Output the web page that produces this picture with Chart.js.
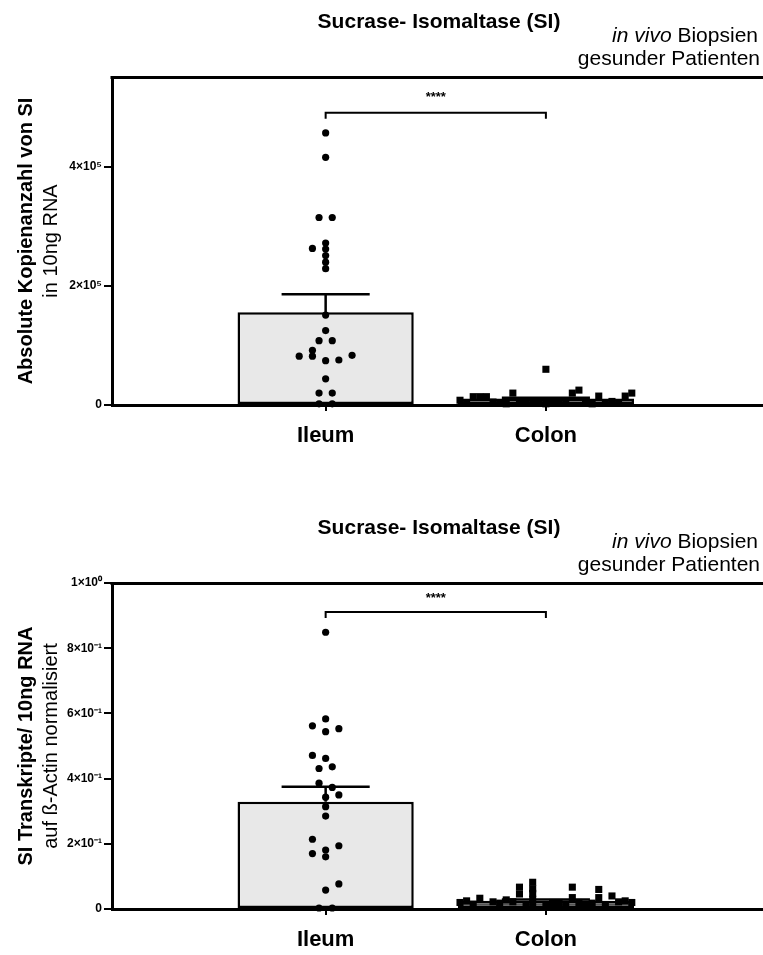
<!DOCTYPE html>
<html>
<head>
<meta charset="utf-8">
<script src="https://cdn.jsdelivr.net/npm/chart.js@4.4.1/dist/chart.umd.min.js"></script>
<style>
  body { margin: 0; background: #fff; width: 763px; height: 955px; overflow: hidden; position: relative; }
  canvas { position: absolute; left: 0; }
  #copies { top: 0; }
  #norm { top: 506px; }
</style>
</head>
<body>
<canvas id="copies" width="763" height="478"></canvas>
<canvas id="norm" width="763" height="449"></canvas>
<script>
const categories = ["Ileum", "Colon"];

// upper panel: absolute copies in 10ng RNA
const copiesMean = [156000, 11000];
const copiesSem = [30000, 1000];
const ileumCopies = [457000, 416000, 315000, 315000, 263000, 272000, 262000, 251000, 240000, 229000,
  151000, 125000, 108000, 108000, 92000, 82000, 82000, 74500, 75600, 83500, 44000, 20000, 20000, 2000, 2000];
const ileumCopiesJitter = [0, 0, -1, 1, -2, 0, 0, 0, 0, 0,
  0, 0, -1, 1, -2, -4, -2, 0, 2, 4, 0, -1, 1, -1, 1];
const colonCopies = [8000, 14000, 14000, 14000, 5000, 4000, 20000, 5000, 3000, 5000,
  60000, 2000, 4000, 6000, 20000, 25000, 5000, 15000, 3000, 6000, 15000, 20000,
  3000, 2000, 3000, 3000, 2000, 3000];
const colonCopiesJitter = [-13, -11, -10, -9, -8, -7, -5, -4, -3, -1,
  0, 0, 1, 3, 4, 5, 6, 8, 9, 10, 12, 13,
  -12, -6, -2, 2, 7, 11];
const copiesTicks = [0, 200000, 400000];
const copiesTickLabels = ["0", "2×10⁵", "4×10⁵"];

// lower panel: transcripts normalised to beta-actin
const normMean = [0.329, 0.025];
const normSem = [0.046, 0.004];
const ileumNorm = [0.849, 0.583, 0.562, 0.553, 0.544, 0.471, 0.462, 0.436, 0.431, 0.386,
  0.373, 0.350, 0.343, 0.314, 0.285, 0.214, 0.194, 0.181, 0.170, 0.160, 0.077, 0.058, 0.003, 0.003];
const ileumNormJitter = [0, 0, -2, 2, 0, -2, 0, 1, -1, -1,
  1, 2, 0, 0, 0, -2, 2, 0, -2, 0, 2, 0, -1, 1];
const colonNorm = [0.025, 0.033, 0.022, 0.028, 0.067, 0.046, 0.082, 0.062, 0.048, 0.030,
  0.015, 0.010, 0.020, 0.067, 0.035, 0.015, 0.060, 0.035, 0.040, 0.025,
  0.020, 0.015, 0.018, 0.022, 0.012, 0.020, 0.015, 0.020, 0.018, 0.012, 0.022, 0.020];
const colonNormJitter = [-12, -10, -8, -6, -4, -4, -2, -2, -2, -2,
  -2, 0, 2, 4, 4, 6, 8, 8, 10, 12,
  -13, -11, -7, -5, -3, 1, 3, 5, 7, 9, 11, 13];
const normTicks = [0, 0.2, 0.4, 0.6, 0.8, 1];
const normTickLabels = ["0", "2×10⁻¹", "4×10⁻¹", "6×10⁻¹", "8×10⁻¹", "1×10⁰"];

const JITTER = 0.03;
const FONT = '"Liberation Sans", Arial, Helvetica, sans-serif';
Chart.defaults.font.family = FONT;
Chart.defaults.color = "#000";

// titles, frame line, y titles, significance bracket
const decor = {
  id: "decor",
  afterDraw(chart, args, o) {
    const { ctx, chartArea: a, scales } = chart;
    ctx.save();
    ctx.fillStyle = "#000";
    ctx.strokeStyle = "#000";

    // top frame line + run the x axis line to the right edge
    ctx.lineWidth = 3;
    const yTop = Math.round(a.top) + 0.5;
    const yBot = Math.round(scales.x.top) + 0.5;
    ctx.beginPath();
    ctx.moveTo(a.left - 1.5, yTop);
    ctx.lineTo(chart.width, yTop);
    ctx.moveTo(a.right - 4, yBot);
    ctx.lineTo(chart.width, yBot);
    ctx.stroke();

    // main title
    ctx.textBaseline = "middle";
    ctx.textAlign = "center";
    ctx.font = "bold 21px " + FONT;
    ctx.fillText(o.title, 439, 22);

    // "in vivo Biopsien" / "gesunder Patienten"
    ctx.textAlign = "right";
    ctx.font = "21px " + FONT;
    const rest = " Biopsien";
    ctx.fillText(rest, 758, 36);
    const w = ctx.measureText(rest).width;
    ctx.font = "italic 21px " + FONT;
    ctx.fillText("in vivo", 758 - w, 36);
    ctx.font = "21px " + FONT;
    ctx.fillText("gesunder Patienten", 760, 59);

    // y axis titles
    const midY = (a.top + a.bottom) / 2;
    ctx.textAlign = "center";
    ctx.save();
    ctx.translate(26, midY);
    ctx.rotate(-Math.PI / 2);
    ctx.font = "bold 20px " + FONT;
    ctx.fillText(o.yTitle[0], 0, 0);
    ctx.font = "20px " + FONT;
    ctx.fillText(o.yTitle[1], 0, 25);
    ctx.restore();

    // significance bracket
    const x1 = scales.x.getPixelForValue(1);
    const x2 = scales.x.getPixelForValue(2);
    const yb = scales.y.getPixelForValue(o.bracket);
    const yd = scales.y.getPixelForValue(o.bracket - o.drop);
    ctx.lineWidth = 2;
    ctx.beginPath();
    ctx.moveTo(x1, yd);
    ctx.lineTo(x1, yb);
    ctx.lineTo(x2, yb);
    ctx.lineTo(x2, yd);
    ctx.stroke();
    ctx.font = "bold 13px " + FONT;
    ctx.fillText("****", (x1 + x2) / 2, scales.y.getPixelForValue(o.stars));
    ctx.restore();
  }
};

// SEM above each bar, drawn right after the bars
const semBars = {
  id: "semBars",
  afterDatasetDraw(chart, args, o) {
    if (args.index !== 0) return;
    const { ctx, scales } = chart;
    const meta = chart.getDatasetMeta(0);
    ctx.save();
    ctx.strokeStyle = "#000";
    ctx.lineWidth = 2.5;
    meta.data.forEach((bar, i) => {
      const half = bar.width / 4;
      const top = scales.y.getPixelForValue(o.mean[i] + o.sem[i]);
      ctx.beginPath();
      ctx.moveTo(bar.x, bar.y);
      ctx.lineTo(bar.x, top);
      ctx.moveTo(bar.x - half, top);
      ctx.lineTo(bar.x + half, top);
      ctx.stroke();
    });
    ctx.restore();
  }
};

function makeChart(id, p) {
  const h = document.getElementById(id).height;
  return new Chart(document.getElementById(id), {
    type: "bar",
    data: {
      datasets: [
        {
          type: "bar",
          data: categories.map((c, i) => ({ x: i + 1, y: p.mean[i] })),
          backgroundColor: ["#e8e8e8", "#555555"],
          borderColor: "#000",
          borderWidth: 2.5,
          borderSkipped: false,
          barPercentage: 0.8,
          categoryPercentage: 1,
          order: 2
        },
        {
          type: "scatter",
          data: p.ileum.map((v, i) => ({ x: 1 + p.ileumJitter[i] * JITTER, y: v })),
          pointStyle: "circle",
          pointRadius: 3.6,
          backgroundColor: "#000",
          borderWidth: 0,
          clip: false,
          order: 1
        },
        {
          type: "scatter",
          data: p.colon.map((v, i) => ({ x: 2 + p.colonJitter[i] * JITTER, y: v })),
          pointStyle: "rect",
          pointRadius: 5,
          backgroundColor: "#000",
          borderWidth: 0,
          clip: false,
          order: 1
        }
      ]
    },
    options: {
      responsive: false,
      animation: false,
      layout: { padding: { top: 77, left: 0, right: 0, bottom: 0 } },
      scales: {
        x: {
          type: "linear",
          offset: false,
          min: 0.03,
          max: 2.963,
          afterBuildTicks: s => { s.ticks = [{ value: 1 }, { value: 2 }]; },
          afterFit: s => { s.height = h - p.bottom; },
          ticks: {
            callback: (v, i) => categories[i],
            font: { size: 22, weight: "bold" },
            padding: 12,
            maxRotation: 0
          },
          grid: { offset: false, drawOnChartArea: false, tickLength: 6, color: "#000", lineWidth: 2 },
          border: { display: true, color: "#000", width: 3 }
        },
        y: {
          min: 0,
          max: p.max,
          afterBuildTicks: s => { s.ticks = p.ticks.map(v => ({ value: v })); },
          afterFit: s => { s.width = 112; },
          ticks: {
            callback: (v, i) => p.tickLabels[i],
            font: { size: 12, weight: "bold" },
            padding: 2
          },
          grid: { drawOnChartArea: false, tickLength: 8, color: "#000", lineWidth: 2 },
          border: { display: true, color: "#000", width: 3 }
        }
      },
      plugins: {
        legend: { display: false },
        tooltip: { enabled: false },
        semBars: { mean: p.mean, sem: p.sem },
        decor: {
          title: "Sucrase- Isomaltase (SI)",
          yTitle: p.yTitle,
          bracket: p.bracket,
          drop: p.drop,
          stars: p.stars
        }
      }
    },
    plugins: [semBars, decor]
  });
}

makeChart("copies", {
  mean: copiesMean, sem: copiesSem,
  ileum: ileumCopies, ileumJitter: ileumCopiesJitter,
  colon: colonCopies, colonJitter: colonCopiesJitter,
  max: 551000, ticks: copiesTicks, tickLabels: copiesTickLabels,
  yTitle: ["Absolute Kopienanzahl von SI", "in 10ng RNA"],
  bracket: 491000, drop: 10000, stars: 516000,
  bottom: 405
});

makeChart("norm", {
  mean: normMean, sem: normSem,
  ileum: ileumNorm, ileumJitter: ileumNormJitter,
  colon: colonNorm, colonJitter: colonNormJitter,
  max: 1, ticks: normTicks, tickLabels: normTickLabels,
  yTitle: ["SI Transkripte/ 10ng RNA", "auf ß-Actin normalisiert"],
  bracket: 0.911, drop: 0.018, stars: 0.954,
  bottom: 403
});
</script>
</body>
</html>
